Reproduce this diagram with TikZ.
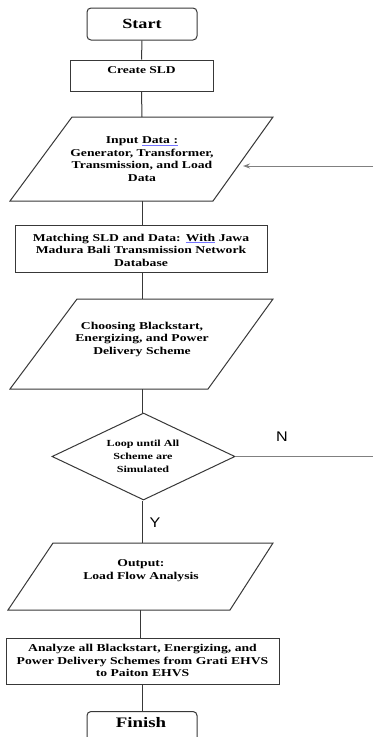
\documentclass[tikz,border=0pt]{standalone}
\usepackage{fontspec}
\setmainfont[FakeStretch=1.3]{Liberation Serif}
\newfontfamily\labfont[FakeStretch=1.15]{Liberation Sans}
\usetikzlibrary{shapes.geometric,arrows.meta}
\colorlet{edgecol}{black!78}
\colorlet{loopcol}{black!50}
\newcommand{\spellul}[1]{{\color{blue!55}\underline{\color{black}#1}}}
\tikzset{
  outline/.style={draw=edgecol, line width=1pt},
  boxnode/.style={outline, rectangle, inner sep=0pt},
  roundnode/.style={outline, rectangle, rounded corners=4pt, inner sep=0pt},
  txt/.style={align=center, inner sep=0pt, font=\fontsize{10.5}{12.5}\selectfont\bfseries},
  conn/.style={draw=edgecol, line width=1pt},
  loopline/.style={draw=loopcol, line width=1pt},
  yn/.style={inner sep=0pt, font=\labfont\fontsize{14}{16}\selectfont}
}
\begin{document}
\begin{tikzpicture}[x=1pt,y=-1pt]
\clip (0,0) rectangle (373,737);
\fill[white] (0,0) rectangle (373,737);

% Start
\node[roundnode, minimum width=110pt, minimum height=32pt, font=\fontsize{14}{16}\selectfont\bfseries] (start) at (142,24) {Start};

% Create SLD
\node[boxnode, minimum width=143pt, minimum height=31pt] (create) at (141.5,75.5) {};
\node[txt, font=\fontsize{10.4}{12}\selectfont\bfseries] (createtxt) at (141.5,70) {Create SLD};

% Input data parallelogram
\draw[outline] (72,117) -- (273,117) -- (213,201) -- (10,201) -- cycle;
\coordinate (inT) at (142,117);
\coordinate (inB) at (142,201);
\coordinate (inR) at (243,166);
\node[txt, text width=200pt] (input) at (142,159) {Input \spellul{Data :}\\Generator, Transformer,\\Transmission, and Load\\Data};

% Matching box
\node[boxnode, minimum width=252pt, minimum height=47pt] (match) at (141,248.5) {};
\node[txt, text width=250pt] (matchtxt) at (141,250) {Matching SLD and Data: \spellul{With} Jawa\\Madura Bali Transmission Network\\Database};

% Choosing parallelogram
\draw[outline] (77,299) -- (273,299) -- (208,389) -- (10,389) -- cycle;
\coordinate (chT) at (142,299);
\coordinate (chB) at (142,389);
\node[txt, text width=200pt] (choose) at (142,339) {Choosing Blackstart,\\Energizing, and Power\\Delivery Scheme};

% Decision diamond
\node[outline, diamond, minimum width=183pt, minimum height=87pt, aspect=2.1, inner sep=0pt] (loop) at (143.5,456.5) {};
\node[txt, font=\fontsize{9.3}{13}\selectfont\bfseries] (looptxt) at (143,456) {Loop until All\\Scheme are\\Simulated};

% Output parallelogram
\draw[outline] (53,543) -- (273,543) -- (230,610) -- (8,610) -- cycle;
\coordinate (outT) at (142,543);
\coordinate (outB) at (140,610);
\node[txt, text width=200pt] (output) at (141,570.5) {Output:\\Load Flow Analysis};

% Analyze box
\node[boxnode, minimum width=273pt, minimum height=46pt] (analyze) at (142.5,661) {};
\node[txt, text width=272pt] (analyzetxt) at (142.5,660.5) {Analyze all Blackstart, Energizing, and\\Power Delivery Schemes from Grati EHVS\\to Paiton EHVS};

% Finish
\node[roundnode, minimum width=110pt, minimum height=34pt, anchor=north] (finish) at (142,711) {};
\node[inner sep=0pt, font=\fontsize{14.5}{16}\selectfont\bfseries] (finishtxt) at (141,723) {Finish};

% edge coordinates
\coordinate (rightN) at (373,456.5);
\coordinate (rightIn) at (373,166);

% connectors
\draw[conn] (start.south) -- (create.north);
\draw[conn] (create.south) -- (inT);
\draw[conn] (inB) -- (match.north -| inB);
\draw[conn] (match.south -| inB) -- (chT);
\draw[conn] (chB) -- (loop.north -| chB);
\draw[conn] (loop.south -| chB) -- (outT);
\draw[conn] (outB) -- (analyze.north -| outB);
\draw[conn] (analyze.south -| inB) -- (finish.north -| inB);

% loop-back
\draw[loopline] (loop.east) -- (rightN);
\draw[loopline, -{Stealth[length=7pt,width=5pt]}] (rightIn) -- (inR);

% labels
\node[yn] (nlab) at (282,437) {N};
\node[yn] (ylab) at (155,523) {Y};
\end{tikzpicture}
\end{document}
